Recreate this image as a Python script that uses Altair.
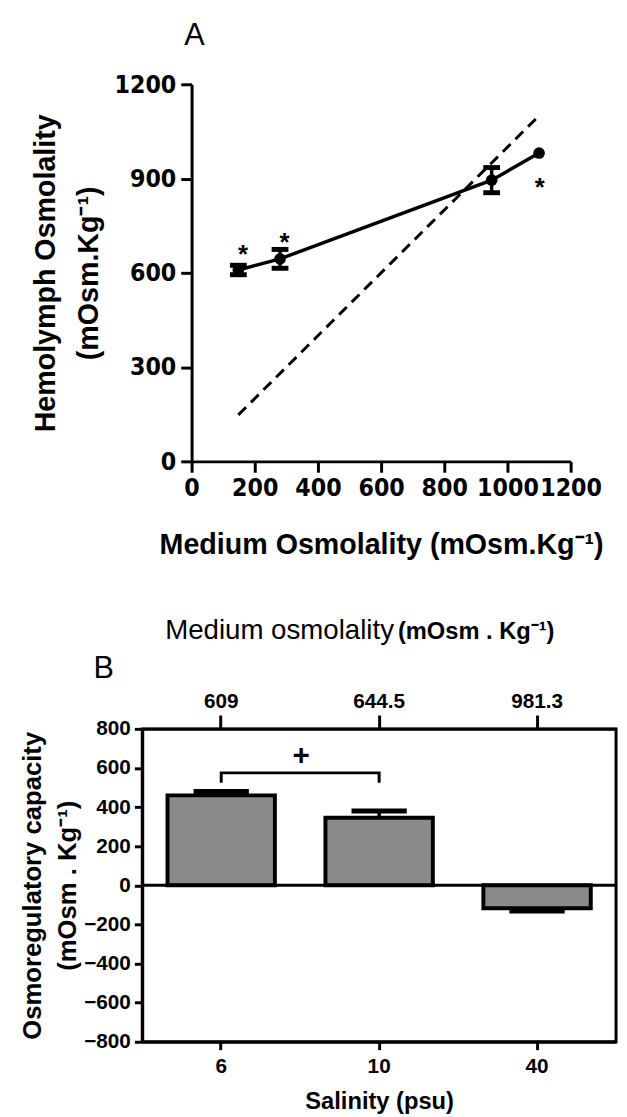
import altair as alt
import pandas as pd

# ---------------- Panel A data ----------------
medium_osm = [148, 280, 950, 1100]
hemolymph_osm = [609, 644.5, 895, 981.3]
hemolymph_err = [15, 30, 40, 0]
iso_line = [148, 1100]
star_x = [163, 294, 1102]
star_y = [682, 720, 895]
x_ticks_a = [0, 200, 400, 600, 800, 1000, 1200]
y_ticks_a = [0, 300, 600, 900, 1200]

# ---------------- Panel B data ----------------
salinity = ["6", "10", "40"]
capacity = [460, 345, -117]
capacity_err = [20, 35, 15]
medium_labels = ["609", "644.5", "981.3"]
bracket_x = ["6", "6", "10", "10"]
bracket_y = [525, 575, 575, 525]
plus_y = [660]
y_ticks_b = [-800, -600, -400, -200, 0, 200, 400, 600, 800]

FONT = "Liberation Sans"
NARROW = "Liberation Sans Narrow, Arial Narrow, DejaVu Sans Condensed, Liberation Sans"
SUP = "\u207b\u00b9"

one = pd.DataFrame({"a": [0]})


def spacer(px, py):
    return alt.Chart(one).mark_point(opacity=0, size=1).encode(
        x=alt.value(px), y=alt.value(py))


def label(text, px, py, size, weight="normal", align="center"):
    return alt.Chart(one).mark_text(
        text=text, fontSize=size, fontWeight=weight, align=align,
        baseline="alphabetic", color="black").encode(
        x=alt.value(px), y=alt.value(py))


# ================= Panel A =================
WA, HA = 434, 382
OFF = 50  # plot origin of panel A sits 50px right of panel B origin

dfA = pd.DataFrame({"medium": medium_osm, "hemo": hemolymph_osm, "err": hemolymph_err})
dfA["lo"] = dfA["hemo"] - dfA["err"]
dfA["hi"] = dfA["hemo"] + dfA["err"]
dfIso = pd.DataFrame({"medium": iso_line, "hemo": iso_line})
dfStar = pd.DataFrame({"medium": star_x, "hemo": star_y})

xsA = alt.Scale(domain=[0, 1200], range=[OFF, WA], nice=False, zero=False)
ysA = alt.Scale(domain=[0, 1200], nice=False)

x_axis_a = alt.Axis(
    values=x_ticks_a, format="d", labelFont=NARROW, labelFontSize=25,
    labelFontWeight="bold", labelPadding=4,
    labelOverlap=False, labelFlush=False, tickSize=11, tickWidth=3, domainWidth=3,
    grid=False, title="Medium Osmolality (mOsm.Kg" + SUP + ")", titleFontSize=29,
    titleFontWeight="bold", titleY=93, titleBaseline="alphabetic")
y_axis_a = alt.Axis(
    values=y_ticks_a, format="d", labelFont=NARROW, labelFontSize=25,
    labelFontWeight="bold", labelPadding=5,
    labelOverlap=False, labelFlush=False, tickSize=11, tickWidth=3, domainWidth=3,
    grid=False, offset=-OFF,
    title=["Hemolymph Osmolality", "(mOsm.Kg" + SUP + ")"], titleFontSize=29,
    titleFontWeight="bold", titleAngle=270, titleX=-139, titleY=HA / 2,
    titleAlign="center", titleBaseline="alphabetic", titleLineHeight=44)

xA = alt.X("medium:Q", scale=xsA, axis=None)
yA = alt.Y("hemo:Q", scale=ysA, axis=None)

lineA = alt.Chart(dfA).mark_line(color="black", strokeWidth=3.5).encode(
    x=alt.X("medium:Q", scale=xsA, axis=x_axis_a),
    y=alt.Y("hemo:Q", scale=ysA, axis=y_axis_a))
isoA = alt.Chart(dfIso).mark_line(color="black", strokeWidth=3, strokeDash=[11, 7]).encode(x=xA, y=yA)
errBase = alt.Chart(dfA).transform_filter("datum.err > 0")
errA = errBase.mark_rule(color="black", strokeWidth=3.5).encode(
    x=xA, y=alt.Y("lo:Q", scale=ysA, axis=None), y2="hi:Q")
capLoA = errBase.mark_tick(color="black", orient="horizontal", size=17, thickness=5, opacity=1).encode(
    x=xA, y=alt.Y("lo:Q", scale=ysA, axis=None))
capHiA = errBase.mark_tick(color="black", orient="horizontal", size=17, thickness=5, opacity=1).encode(
    x=xA, y=alt.Y("hi:Q", scale=ysA, axis=None))
ptsA = alt.Chart(dfA).mark_circle(color="black", size=140, opacity=1).encode(x=xA, y=yA)
starsA = alt.Chart(dfStar).mark_text(text="*", fontSize=26, fontWeight="bold", baseline="middle", dy=8, color="black").encode(x=xA, y=yA)

panelA = alt.layer(
    isoA, lineA, errA, capLoA, capHiA, ptsA, starsA,
    label("A", OFF + 3, -40, 31),
    spacer(-134, -69), spacer(-134, HA + 110),
).resolve_axis(x="independent", y="independent").properties(width=WA, height=HA)

# ================= Panel B =================
WB, HB = 480, 317

dfB = pd.DataFrame({"sal": salinity, "cap": capacity, "err": capacity_err})
dfB["end"] = [c + e if c >= 0 else c - e for c, e in zip(capacity, capacity_err)]
dfBr = pd.DataFrame({"bx": bracket_x, "by": bracket_y, "o": list(range(len(bracket_x)))})
dfPlus = pd.DataFrame({"py": plus_y})
dfZero = pd.DataFrame({"zero": [0]})

xsB = alt.Scale(domain=salinity, paddingInner=0.32, paddingOuter=0.16)
ysB = alt.Scale(domain=[-800, 800], nice=False)

top_expr = " : ".join(
    f"datum.value == '{s}' ? '{m}'" for s, m in zip(salinity[:-1], medium_labels[:-1])
) + f" : '{medium_labels[-1]}'"

x_axis_b = alt.Axis(
    labelAngle=0, labelFontSize=21, labelFontWeight="bold", labelPadding=6,
    tickSize=8, tickWidth=3, domainWidth=3, grid=False,
    title="Salinity (psu)", titleFontSize=24, titleFontWeight="bold",
    titleY=68, titleBaseline="alphabetic")
x_axis_b_top = alt.Axis(
    orient="top", labelAngle=0, labelFontSize=21, labelFontWeight="bold",
    labelPadding=4, labelExpr=top_expr, tickSize=14, tickWidth=3, domainWidth=3,
    grid=False, title=None)
y_axis_b = alt.Axis(
    values=y_ticks_b, labelFontSize=21, labelFontWeight="bold", labelPadding=4,
    labelOverlap=False, labelFlush=False, tickSize=8, tickWidth=3, domainWidth=3, grid=False,
    title=["Osmoregulatory capacity", "(mOsm . Kg" + SUP + ")"], titleFontSize=26,
    titleFontWeight="bold", titleAngle=270, titleX=-103, titleY=HB / 2,
    titleAlign="center", titleBaseline="alphabetic", titleLineHeight=35)

barsB = alt.Chart(dfB).mark_bar(fill="#8a8a8a", stroke="black", strokeWidth=4).encode(
    x=alt.X("sal:N", scale=xsB, axis=x_axis_b),
    y=alt.Y("cap:Q", scale=ysB, axis=y_axis_b))
zeroB = alt.Chart(dfZero).mark_rule(color="black", strokeWidth=3).encode(
    y=alt.Y("zero:Q", scale=ysB, axis=None))
errB = alt.Chart(dfB).mark_rule(color="black", strokeWidth=3.5).encode(
    x=alt.X("sal:N", scale=xsB, axis=x_axis_b_top),
    y=alt.Y("cap:Q", scale=ysB, axis=None), y2="end:Q")
capB = alt.Chart(dfB).mark_tick(color="black", orient="horizontal", size=56, thickness=5, opacity=1).encode(
    x=alt.X("sal:N", scale=xsB, axis=None),
    y=alt.Y("end:Q", scale=ysB, axis=None))
bracketB = alt.Chart(dfBr).mark_line(color="black", strokeWidth=3).encode(
    x=alt.X("bx:N", scale=xsB, axis=None),
    y=alt.Y("by:Q", scale=ysB, axis=None), order="o:Q")
plusB = alt.Chart(dfPlus).mark_text(text="+", fontSize=30, fontWeight="bold", baseline="middle", color="black").encode(
    x=alt.value(161), y=alt.Y("py:Q", scale=ysB, axis=None))

panelB = alt.layer(
    barsB, zeroB, errB, capB, bracketB, plusB,
    label("Medium osmolality", 255, -91, 28, align="right"),
    label("(mOsm . Kg" + SUP + ")", 259, -91, 24, weight="bold", align="left"),
    label("B", -39, -52, 31),
    spacer(-134, -158),
).resolve_axis(x="independent", y="independent").properties(
    width=WB, height=HB, view=alt.ViewBackground(stroke="black", strokeWidth=3))

chart = alt.vconcat(panelA, panelB, spacing=0).properties(padding=0).configure_view(
    stroke=None
).configure_axis(
    labelFont=FONT, titleFont=FONT, domainColor="black", tickColor="black",
    labelColor="black", titleColor="black"
).configure_text(font=FONT)

chart.save("out.html", embed_options={"renderer": "svg", "actions": False})
